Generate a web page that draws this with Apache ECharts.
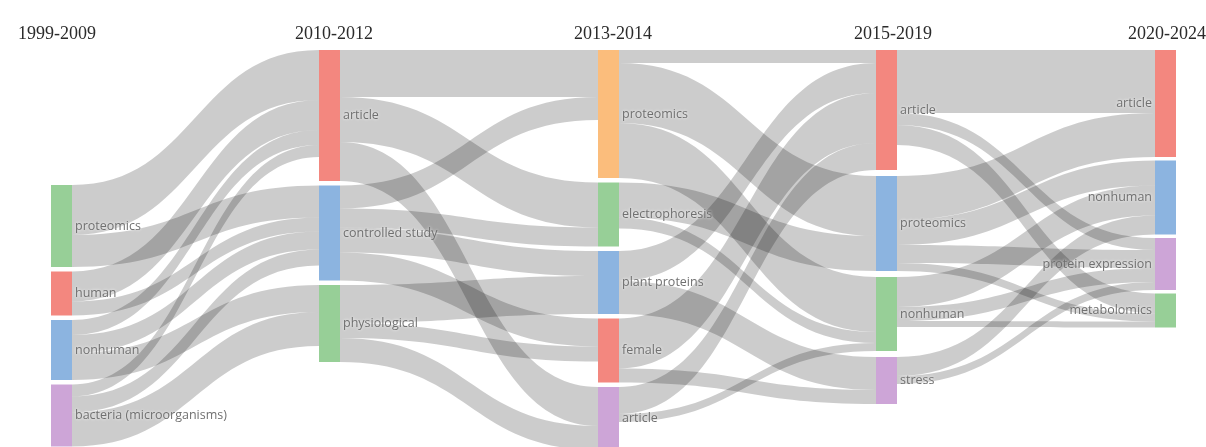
<!DOCTYPE html>
<html>
<head>
<meta charset="utf-8">
<script src="https://cdn.jsdelivr.net/npm/echarts@6/dist/echarts.min.js"></script>
<style>
  html, body { margin: 0; padding: 0; background: #fff; }
  #chart { width: 1206px; height: 447px; }
</style>
</head>
<body>
<div id="chart"></div>
<script>
// Time periods (one column each) and the keywords found in each period, top to bottom
const periods = ['1999-2009', '2010-2012', '2013-2014', '2015-2019', '2020-2024'];
const keywords = [
  ['proteomics', 'human', 'nonhuman', 'bacteria (microorganisms)'],
  ['article', 'controlled study', 'physiological'],
  ['proteomics', 'electrophoresis', 'plant proteins', 'female', 'article'],
  ['article', 'proteomics', 'nonhuman', 'stress'],
  ['article', 'nonhuman', 'protein expression', 'metabolomics']
];

// Keyword flows between consecutive periods: [from keyword, to keyword, count]
const flows1999to2010 = [
  ['proteomics', 'article', 50],
  ['proteomics', 'controlled study', 32],
  ['human', 'article', 30],
  ['human', 'controlled study', 14],
  ['nonhuman', 'article', 15],
  ['nonhuman', 'controlled study', 18],
  ['nonhuman', 'physiological', 27],
  ['bacteria (microorganisms)', 'article', 12],
  ['bacteria (microorganisms)', 'controlled study', 16],
  ['bacteria (microorganisms)', 'physiological', 34]
];
const flows2010to2013 = [
  ['article', 'proteomics', 47],
  ['article', 'electrophoresis', 45],
  ['article', 'article', 39],
  ['controlled study', 'proteomics', 23],
  ['controlled study', 'electrophoresis', 19],
  ['controlled study', 'plant proteins', 25],
  ['controlled study', 'female', 28],
  ['physiological', 'plant proteins', 38],
  ['physiological', 'female', 15],
  ['physiological', 'article', 24]
];
const flows2013to2015 = [
  ['proteomics', 'article', 13],
  ['proteomics', 'proteomics', 60],
  ['proteomics', 'nonhuman', 55],
  ['electrophoresis', 'proteomics', 35],
  ['electrophoresis', 'nonhuman', 11],
  ['plant proteins', 'article', 30],
  ['plant proteins', 'stress', 33],
  ['female', 'article', 50],
  ['female', 'stress', 14],
  ['article', 'article', 27],
  ['article', 'nonhuman', 8]
];
const flows2015to2020 = [
  ['article', 'article', 63],
  ['article', 'protein expression', 12],
  ['article', 'metabolomics', 20],
  ['proteomics', 'article', 44],
  ['proteomics', 'nonhuman', 25],
  ['proteomics', 'protein expression', 18],
  ['proteomics', 'metabolomics', 8],
  ['nonhuman', 'nonhuman', 30],
  ['nonhuman', 'protein expression', 14],
  ['nonhuman', 'metabolomics', 6],
  ['stress', 'nonhuman', 19],
  ['stress', 'protein expression', 8]
];
const transitions = [flows1999to2010, flows2010to2013, flows2013to2015, flows2015to2020];

// Node colours, column by column
const keywordColors = [
  ['#97cf97', '#f3877f', '#8cb4e0', '#cda5d7'],
  ['#f3877f', '#8cb4e0', '#97cf97'],
  ['#fbbd7c', '#97cf97', '#8cb4e0', '#f3877f', '#cda5d7'],
  ['#f3877f', '#8cb4e0', '#97cf97', '#cda5d7'],
  ['#f3877f', '#8cb4e0', '#cda5d7', '#97cf97']
];

// Layout settings
const chartWidth = 1206;
const plotTop = 50;
const plotHeight = 400;
const nodeWidth = 21;
const nodeGap = 4.5;
const columnLeft = [51, 319, 598, 876, 1155];
const columnOffset = [135, 0, 0, 0, 0];
const columnGap = [4.5, 4.5, 4.5, 6, 3.5];
const headerCenter = [52, 329, 608, 888, 1162];

const nodeId = (c, k) => periods[c] + '|' + k;

// Node value = larger of inflow and outflow, as the sankey layout does
const nodeValue = keywords.map((col, c) => col.map(k => {
  let inSum = 0, outSum = 0;
  if (c > 0) transitions[c - 1].forEach(f => { if (f[1] === k) inSum += f[2]; });
  if (c < transitions.length) transitions[c].forEach(f => { if (f[0] === k) outSum += f[2]; });
  return Math.max(inSum, outSum);
}));
let ky = Infinity;
nodeValue.forEach(col => {
  const s = col.reduce((a, b) => a + b, 0);
  ky = Math.min(ky, (plotHeight - (col.length - 1) * nodeGap) / s);
});

const nodes = [];
keywords.forEach((col, c) => {
  let y = columnOffset[c];
  col.forEach((k, i) => {
    const last = c === periods.length - 1;
    nodes.push({
      name: nodeId(c, k),
      depth: c,
      localX: columnLeft[c] / chartWidth,
      localY: y / plotHeight,
      itemStyle: { color: keywordColors[c][i] },
      label: { position: last ? 'left' : 'right' }
    });
    y += nodeValue[c][i] * ky + columnGap[c];
  });
});

const links = [];
transitions.forEach((flows, c) => {
  flows.forEach(f => {
    links.push({ source: nodeId(c, f[0]), target: nodeId(c + 1, f[1]), value: f[2] });
  });
});

const chart = echarts.init(document.getElementById('chart'), null, { renderer: 'canvas' });
chart.setOption({
  animation: false,
  backgroundColor: '#fff',
  title: periods.map((p, i) => ({
    text: p,
    left: headerCenter[i],
    top: 20,
    textAlign: 'center',
    textStyle: {
      fontFamily: 'Liberation Serif',
      fontSize: 18,
      fontWeight: 'normal',
      color: '#2b2b2b'
    }
  })),
  series: [{
    type: 'sankey',
    left: 0,
    right: 0,
    top: plotTop,
    height: plotHeight,
    nodeWidth: nodeWidth,
    nodeGap: nodeGap,
    layoutIterations: 0,
    draggable: false,
    emphasis: { disabled: true },
    data: nodes,
    links: links,
    itemStyle: { borderWidth: 0 },
    lineStyle: { color: '#000', opacity: 0.2, curveness: 0.5 },
    label: {
      show: true,
      distance: 3,
      color: '#707070',
      fontFamily: 'Open Sans',
      fontSize: 12.5,
      textShadowColor: '#fff',
      textShadowBlur: 3,
      formatter: p => p.name.split('|')[1]
    }
  }]
});
</script>
</body>
</html>
